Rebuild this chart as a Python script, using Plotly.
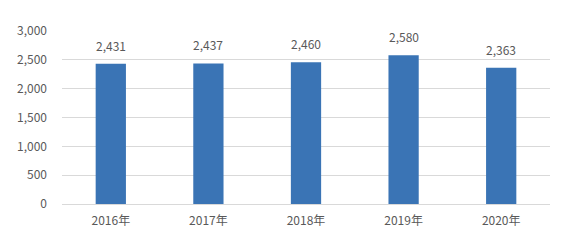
import plotly.graph_objects as go

years = ["2016年", "2017年", "2018年", "2019年", "2020年"]
values = [2431, 2437, 2460, 2580, 2363]
tick_vals = [0, 500, 1000, 1500, 2000, 2500, 3000]
tick_text = ["0", "500", "1,000", "1,500", "2,000", "2,500", "3,000"]

fig = go.Figure(go.Bar(
    x=years, y=values,
    marker=dict(color="#3a74b5", line=dict(width=0)),
))
for yr, v in zip(years, values):
    fig.add_annotation(x=yr, y=v, text=f"{v:,}", showarrow=False,
                       yanchor="bottom", yshift=8,
                       font=dict(color="#595959", size=12))
fig.update_layout(
    width=580, height=243,
    margin=dict(l=62, r=30, t=31, b=39),
    paper_bgcolor="white", plot_bgcolor="white",
    font=dict(family="Noto Sans CJK JP, Noto Sans, sans-serif", color="#595959", size=12),
    bargap=0.69, showlegend=False,
)
fig.update_yaxes(range=[0, 3000], tickvals=tick_vals, ticktext=tick_text,
                 gridcolor="#d9d9d9", gridwidth=1, zeroline=False,
                 ticks="", ticklabelstandoff=14, tickfont=dict(size=12))
fig.update_xaxes(showline=True, linecolor="#d9d9d9", linewidth=1, ticks="",
                 tickfont=dict(size=12), ticklabelstandoff=6)
fig.write_html("out.html")
